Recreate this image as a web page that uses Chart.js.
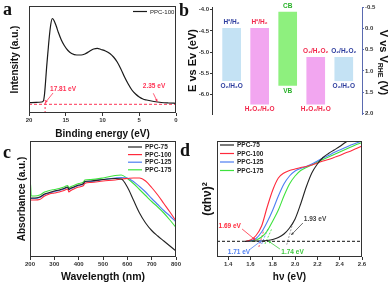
<!DOCTYPE html>
<html>
<head>
<meta charset="utf-8">
<script src="https://cdn.jsdelivr.net/npm/chart.js@4.4.1/dist/chart.umd.min.js"></script>
<style>
  body { margin: 0; width: 390px; height: 286px; position: relative; background: #fff; overflow: hidden; }
  canvas { position: absolute; }
  .tag { position: absolute; font: bold 18px "Liberation Serif", serif; line-height: 18px; color: #111; }
</style>
</head>
<body>
<canvas id="ups" width="195" height="143" style="left:0;top:0"></canvas>
<canvas id="bands" width="210" height="143" style="left:180px;top:0"></canvas>
<canvas id="uvvis" width="195" height="150" style="left:0;top:136px"></canvas>
<canvas id="tauc" width="195" height="150" style="left:195px;top:136px"></canvas>
<div class="tag" style="left:3px;top:0">a</div>
<div class="tag" style="left:179px;top:1px">b</div>
<div class="tag" style="left:3px;top:143px">c</div>
<div class="tag" style="left:180px;top:141px">d</div>
<script>
// a: UPS spectrum of PPC-100
const bindingEnergy = [20, 19, 18.3, 18.05, 17.9, 17.75, 17.6, 17.4, 17.24, 17.05, 16.83, 16.6, 16.3, 16, 15.6, 15.2, 14.7, 14.2, 13.5, 12.9, 12.4, 11.8, 11.2, 10.7, 10.2, 9.6, 9, 8.5, 8, 7.5, 7, 6.5, 6, 5.5, 5, 4.5, 4, 3, 2, 1, 0];
const intensityPPC100 = [10.3, 10.6, 11, 12, 18, 31, 46, 63, 76, 88, 94.5, 92.5, 87, 80.5, 73, 67.5, 62.5, 59.5, 58, 58, 59, 61.5, 64, 64.7, 63.5, 62, 59.5, 56, 51, 44, 36, 29, 23, 19, 16, 14, 13, 11.5, 10.5, 10, 9.7];
const upsBaseline = 8.7;
const cutoffEnergy = 17.81;
const onsetEnergy = 2.35;

// b: band positions (E vs vacuum, eV)
const bandSlots = [0, 1, 2, 3, 4];
const bandTop = [-4.44, -4.44, -4.06, -5.12, -5.12];
const bandBottom = [-5.67, -6.22, -5.78, -6.22, -5.67];
const bandUpperText = ['H⁺/H₂', 'H⁺/H₂', 'CB', 'O₂/H₂O₂', 'O₂/H₂O₂'];
const bandLowerText = ['O₂/H₂O', 'H₂O₂/H₂O', 'VB', 'H₂O₂/H₂O', 'O₂/H₂O'];
const bandFill = ['#c4e2f4', '#f2a6f0', '#8ef07e', '#f2a6f0', '#c4e2f4'];
const bandTextColor = ['#2d3d9e', '#f2284c', '#27b027', '#f2284c', '#2d3d9e'];

// c: UV-vis absorbance
const wavelength = [200, 202, 205, 220, 240, 260, 280, 300, 320, 340, 355, 360, 365, 380, 400, 420, 425, 450, 500, 550, 575, 600, 625, 650, 675, 700, 725, 750, 775, 800];
const absPPC75 = [57.3, 58, 59, 59, 60, 63, 64.5, 66, 67, 68.5, 70, 67.5, 68.5, 70, 72, 73.5, 75.5, 76, 77.5, 78.5, 78, 70, 57, 44, 34, 26.5, 21, 16, 11, 6];
const absPPC100 = [56, 56.5, 57, 57, 57.5, 61, 63, 64, 65, 66.5, 68, 65, 66, 68, 70, 71.5, 73.5, 74.5, 76, 77, 78, 78.5, 79, 79, 76, 69.5, 62, 53.5, 45, 36];
const absPPC125 = [57, 58, 58.5, 58.5, 59.5, 62.5, 64, 65.5, 66.5, 68, 69.5, 67, 68, 69.5, 71.5, 73, 75, 75.5, 77.5, 79, 79.5, 79, 75.5, 70.5, 65, 58.5, 52.5, 46.5, 41, 35];
const absPPC175 = [59, 74, 61, 61, 62, 65, 66.5, 67.5, 68.5, 70, 71.5, 69, 70, 71.5, 73.5, 75, 77, 77.5, 79, 81.5, 82, 78.5, 73.5, 67.5, 61.5, 55.5, 50, 44, 37, 29.5];

// d: Tauc plot
const photonEnergy = [1.55, 1.6, 1.65, 1.7, 1.75, 1.8, 1.85, 1.9, 1.95, 2.0, 2.05, 2.1, 2.15, 2.2, 2.25, 2.3, 2.35, 2.4, 2.45, 2.5, 2.55, 2.6];
const taucPPC75 = [15.5, 16, 16, 16, 16.5, 17.5, 19.5, 23, 29, 38, 53, 70, 84, 93, 99.5, 103.5, 107, 110.5, 114.5, 118, 121, 124];
const taucPPC100 = [15.5, 17, 21.5, 31, 50, 67, 79, 84, 86.5, 88, 89.5, 90.5, 92, 94, 96, 97.5, 99.5, 101.5, 104, 106, 108.5, 111];
const taucPPC125 = [15.5, 16, 18.5, 25, 35, 47, 61, 73, 81, 86, 88.5, 90.5, 93, 96, 99, 101.5, 104.5, 107, 109.5, 112, 114, 116];
const taucPPC175 = [15.5, 16, 17, 20, 26, 36, 47, 61, 73, 81, 86.5, 89.5, 92, 95, 97.5, 100, 102.5, 105, 107.5, 110, 112.5, 114.5];
const taucBaseline = 15.7;
const tangentPPC75 = [[1.925, 12.3], [1.984, 35.7]];
const tangentPPC100 = [[1.675, 10], [1.72, 27]];
const tangentPPC125 = [[1.70, 13], [1.76, 29]];
const tangentPPC175 = [[1.73, 13], [1.79, 28]];

const seriesColors = ['#222222', '#ff2a3c', '#4d7ef2', '#3ee23e'];
const seriesNames = ['PPC-75', 'PPC-100', 'PPC-125', 'PPC-175'];

Chart.defaults.font.family = '"Liberation Sans", Arial, sans-serif';
Chart.defaults.color = '#333';

const F = (size, weight = 'bold') => ({ size, weight });
const pts = (xs, ys) => xs.map((x, i) => ({ x, y: ys[i] }));
const pairs = arr => arr.map(p => ({ x: p[0], y: p[1] }));

const frame = {
  id: 'frame',
  afterDatasetsDraw(c) {
    const a = c.chartArea, ctx = c.ctx;
    ctx.save();
    ctx.strokeStyle = '#333';
    ctx.lineWidth = 1;
    ctx.strokeRect(Math.round(a.left) + 0.5, Math.round(a.top) + 0.5, Math.round(a.right - a.left) - 1, Math.round(a.bottom - a.top) - 1);
    ctx.restore();
  }
};

function notes(items) {
  return {
    id: 'notes',
    afterDatasetsDraw(c) {
      const ctx = c.ctx, X = c.scales.x, Y = c.scales.y;
      ctx.save();
      for (const n of items) {
        ctx.strokeStyle = ctx.fillStyle = n.c;
        if (n.s) {
          ctx.font = 'bold 6.5px "Liberation Sans"';
          ctx.textAlign = 'center';
          ctx.textBaseline = 'middle';
          ctx.fillText(n.s, X.getPixelForValue(n.x), Y.getPixelForValue(n.y));
        } else {
          const x1 = X.getPixelForValue(n.x1), y1 = Y.getPixelForValue(n.y1);
          const x2 = X.getPixelForValue(n.x2), y2 = Y.getPixelForValue(n.y2);
          ctx.lineWidth = 0.8;
          ctx.beginPath(); ctx.moveTo(x1, y1); ctx.lineTo(x2, y2); ctx.stroke();
          const ang = Math.atan2(y2 - y1, x2 - x1), h = 3;
          ctx.beginPath();
          ctx.moveTo(x2, y2);
          ctx.lineTo(x2 - h * Math.cos(ang - 0.45), y2 - h * Math.sin(ang - 0.45));
          ctx.lineTo(x2 - h * Math.cos(ang + 0.45), y2 - h * Math.sin(ang + 0.45));
          ctx.closePath(); ctx.fill();
        }
      }
      ctx.restore();
    }
  };
}

function keyBox(side, dx, dy, gap, font) {
  return {
    id: 'keyBox',
    afterDatasetsDraw(c) {
      const a = c.chartArea, ctx = c.ctx;
      const x0 = side === 'right' ? a.right + dx : a.left + dx;
      ctx.save();
      ctx.font = font;
      ctx.textBaseline = 'middle';
      c.data.datasets.filter(d => d.inKey).forEach((d, i) => {
        const y = a.top + dy + i * gap;
        ctx.strokeStyle = d.borderColor;
        ctx.lineWidth = 1.2;
        ctx.beginPath(); ctx.moveTo(x0, y); ctx.lineTo(x0 + 14, y); ctx.stroke();
        ctx.fillStyle = '#222';
        ctx.fillText(d.label, x0 + 17, y + 0.5);
      });
      ctx.restore();
    }
  };
}

const bottomAxis = (min, max, step, title, titleSize, height, fmt) => ({
  type: 'linear', min, max,
  ticks: { stepSize: step, includeBounds: false, font: F(6), color: '#333', padding: 1, maxRotation: 0, callback: fmt },
  grid: { drawOnChartArea: false, tickLength: 3, color: '#333' },
  border: { display: false },
  title: { display: true, text: title, font: F(titleSize), color: '#111', padding: { top: 0, bottom: 3 } },
  afterFit: s => { s.height = height; }
});
const leftTitleAxis = (min, max, title, width, pad, size = 10) => ({
  min, max,
  ticks: { display: false },
  grid: { display: false },
  border: { display: false },
  title: { display: true, text: title, font: F(size), color: '#111', padding: { top: pad, bottom: 0 } },
  afterFit: s => { s.width = width; }
});
const baseOpts = padding => ({
  responsive: false, animation: false, events: [],
  layout: { padding },
  plugins: { legend: { display: false }, tooltip: { enabled: false } }
});

// ---- a
new Chart(document.getElementById('ups'), {
  type: 'line',
  data: {
    datasets: [
      { label: 'PPC-100', inKey: true, data: pts(bindingEnergy, intensityPPC100), borderColor: '#1a1a1a', borderWidth: 1.2, pointRadius: 0, cubicInterpolationMode: 'monotone' },
      { data: [{ x: 20, y: upsBaseline }, { x: 0, y: upsBaseline }], borderColor: '#ff3355', borderWidth: 1, borderDash: [3, 2], pointRadius: 0 },
      { data: [{ x: cutoffEnergy, y: 0 }, { x: cutoffEnergy, y: 13 }], borderColor: '#ff3355', borderWidth: 1, borderDash: [2, 2], pointRadius: 0 }
    ]
  },
  options: {
    ...baseOpts({ top: 6, right: 19, left: 0, bottom: 0 }),
    scales: {
      x: { ...bottomAxis(0, 20, 5, 'Binding energy (eV)', 10, 30), reverse: true },
      y: leftTitleAxis(0, 107, 'Intensity (a.u.)', 29, 9)
    }
  },
  plugins: [frame, keyBox('right', -43, 5.5, 8, '6px "Liberation Sans"'), notes([
    { s: cutoffEnergy.toFixed(2) + ' eV', x: 15.37, y: 24, c: '#ff3355' },
    { x1: 16.73, y1: 20, x2: 17.82, y2: 10, c: '#ff3355' },
    { s: onsetEnergy.toFixed(2) + ' eV', x: 2.99, y: 27, c: '#ff3355' },
    { x1: 3.09, y1: 19.7, x2: 2.54, y2: 11.3, c: '#ff3355' }
  ])]
});

// ---- b
new Chart(document.getElementById('bands'), {
  type: 'bar',
  data: {
    datasets: [{
      data: bandSlots.map(i => ({ x: i, y: [bandBottom[i], bandTop[i]] })),
      backgroundColor: bandFill, borderWidth: 0, barThickness: 18
    }]
  },
  options: {
    ...baseOpts({ top: 7, right: 0, left: 0, bottom: 29 }),
    scales: {
      x: { type: 'linear', min: -0.7, max: 4.65, offset: false, grace: 0, display: false },
      y: {
        position: 'left', min: -6.45, max: -3.94,
        ticks: { stepSize: 0.5, includeBounds: false, font: F(6), color: '#333', padding: 1, callback: v => v.toFixed(1) },
        grid: { drawOnChartArea: false, tickLength: 2, color: '#333' },
        border: { color: '#333' },
        title: { display: true, text: 'E vs Ev (eV)', font: F(11), color: '#111', padding: { top: 6, bottom: 0 } },
        afterFit: s => { s.width = 32; }
      },
      y2: {
        position: 'right', min: -0.5, max: 2.01, reverse: true,
        ticks: { stepSize: 0.5, includeBounds: false, font: F(6), color: '#333', padding: 1, callback: v => v.toFixed(1) },
        grid: { drawOnChartArea: false, tickLength: 2, color: '#5a6ab0' },
        border: { color: '#5a6ab0' },
        afterFit: s => { s.width = 28; }
      }
    }
  },
  plugins: [{
    id: 'bandNotes',
    afterDatasetsDraw(c) {
      const X = c.scales.x, Y = c.scales.y, ctx = c.ctx, a = c.chartArea;
      ctx.save();
      ctx.font = 'bold 6.5px "Liberation Sans"';
      ctx.textAlign = 'center';
      ctx.textBaseline = 'middle';
      bandSlots.forEach(i => {
        const x = X.getPixelForValue(i);
        ctx.fillStyle = bandTextColor[i];
        ctx.fillText(bandUpperText[i], x, Y.getPixelForValue(bandTop[i]) - 6);
        ctx.fillText(bandLowerText[i], x, Y.getPixelForValue(bandBottom[i]) + 5.5);
      });
      // right axis title with subscript
      ctx.translate(a.right + 21, (a.top + a.bottom) / 2 + 2);
      ctx.rotate(Math.PI / 2);
      ctx.fillStyle = '#111';
      ctx.textAlign = 'left';
      const big = 'bold 11px "Liberation Sans"', small = 'bold 7px "Liberation Sans"';
      ctx.font = big; const w1 = ctx.measureText('V vs V').width, w3 = ctx.measureText(' (V)').width;
      ctx.font = small; const w2 = ctx.measureText('RHE').width;
      let x = -(w1 + w2 + w3) / 2;
      ctx.font = big; ctx.fillText('V vs V', x, 0); x += w1;
      ctx.font = small; ctx.fillText('RHE', x, 3); x += w2;
      ctx.font = big; ctx.fillText(' (V)', x, 0);
      ctx.restore();
    }
  }]
});

// ---- c
new Chart(document.getElementById('uvvis'), {
  type: 'line',
  data: {
    datasets: [absPPC75, absPPC100, absPPC125, absPPC175].map((ys, i) => ({
      label: seriesNames[i], inKey: true, data: pts(wavelength, ys),
      borderColor: seriesColors[i], borderWidth: 1.1, pointRadius: 0, cubicInterpolationMode: 'monotone'
    }))
  },
  options: {
    ...baseOpts({ top: 5, right: 19, left: 0, bottom: 0 }),
    scales: {
      x: bottomAxis(200, 800, 100, 'Wavelength (nm)', 10.5, 29),
      y: leftTitleAxis(0, 116, 'Absorbance (a.u.)', 30, 16)
    }
  },
  plugins: [frame, keyBox('right', -48, 6, 7.6, 'bold 6.5px "Liberation Sans"')]
});

// ---- d
new Chart(document.getElementById('tauc'), {
  type: 'line',
  data: {
    datasets: [
      ...[taucPPC75, taucPPC100, taucPPC125, taucPPC175].map((ys, i) => ({
        label: seriesNames[i], inKey: true, data: pts(photonEnergy, ys),
        borderColor: seriesColors[i], borderWidth: 1.1, pointRadius: 0, cubicInterpolationMode: 'monotone'
      })),
      { data: [{ x: 1.3, y: taucBaseline }, { x: 2.6, y: taucBaseline }], borderColor: '#111', borderWidth: 1, borderDash: [3, 2], pointRadius: 0 },
      ...[tangentPPC75, tangentPPC100, tangentPPC125, tangentPPC175].map((seg, i) => ({
        data: pairs(seg), borderColor: i === 0 ? '#888' : seriesColors[i], borderWidth: 0.8, borderDash: [2, 1.5], pointRadius: 0
      }))
    ]
  },
  options: {
    ...baseOpts({ top: 5, right: 28, left: 0, bottom: 0 }),
    scales: {
      x: bottomAxis(1.3, 2.6, 0.2, 'hν (eV)', 10, 29, v => v.toFixed(1)),
      y: leftTitleAxis(0, 116, '(αhν)²', 22, 5, 12)
    }
  },
  plugins: [frame, keyBox('left', 3, 4, 8.5, 'bold 6.5px "Liberation Sans"'), notes([
    { s: '1.69 eV', x: 1.414, y: 31, c: '#ff2a3c' },
    { x1: 1.525, y1: 28, x2: 1.645, y2: 17, c: '#ff2a3c' },
    { s: '1.71 eV', x: 1.497, y: 4.5, c: '#4d7ef2' },
    { x1: 1.594, y1: 7.5, x2: 1.70, y2: 16.5, c: '#4d7ef2' },
    { s: '1.74 eV', x: 1.977, y: 4.5, c: '#3ec83e' },
    { x1: 1.864, y1: 8, x2: 1.76, y2: 16, c: '#3ec83e' },
    { s: '1.93 eV', x: 2.179, y: 37.3, c: '#444' },
    { x1: 2.07, y1: 34, x2: 1.965, y2: 22, c: '#444' }
  ])]
});
</script>
</body>
</html>
